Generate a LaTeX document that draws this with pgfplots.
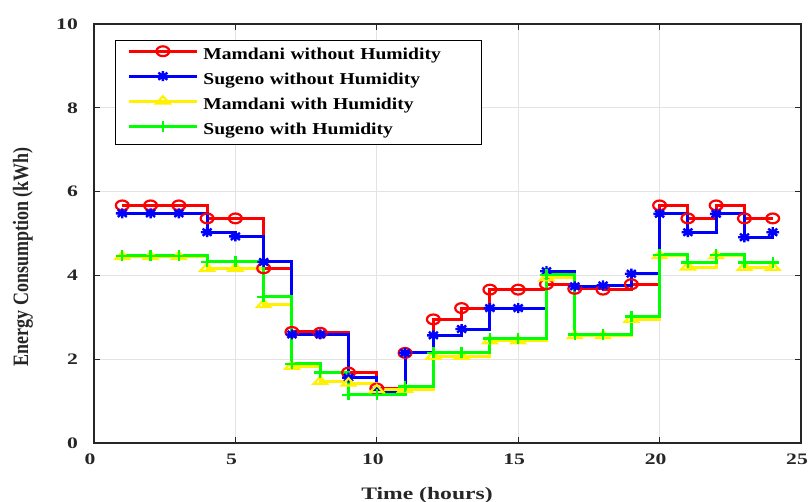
\documentclass[border=0pt]{standalone}
\usepackage{fontspec}
\usepackage{graphicx}
\usepackage{pgfplots}
\pgfplotsset{compat=1.18}
\setmainfont{Liberation Serif}
\newfontfamily\tickf{Liberation Serif}[FakeStretch=1.35]
\newfontfamily\legf{Liberation Serif}[FakeStretch=1.18]
\definecolor{axc}{RGB}{38,38,38}
\pgfdeclareplotmark{mstar}{%
  \pgfpathmoveto{\pgfqpoint{-\pgfplotmarksize}{0pt}}\pgfpathlineto{\pgfqpoint{\pgfplotmarksize}{0pt}}%
  \pgfpathmoveto{\pgfqpoint{0pt}{-\pgfplotmarksize}}\pgfpathlineto{\pgfqpoint{0pt}{\pgfplotmarksize}}%
  \pgfpathmoveto{\pgfqpoint{-0.707\pgfplotmarksize}{-0.707\pgfplotmarksize}}\pgfpathlineto{\pgfqpoint{0.707\pgfplotmarksize}{0.707\pgfplotmarksize}}%
  \pgfpathmoveto{\pgfqpoint{-0.707\pgfplotmarksize}{0.707\pgfplotmarksize}}\pgfpathlineto{\pgfqpoint{0.707\pgfplotmarksize}{-0.707\pgfplotmarksize}}%
  \pgfusepathqstroke}
\pgfplotsset{legend image code/.code={\draw[mark repeat=2,mark phase=2,#1] plot coordinates {(0pt,4pt)(34pt,4pt)(68pt,4pt)};}}
\begin{document}
\begin{tikzpicture}
\begin{axis}[
  at={(94pt,59pt)}, anchor=south west,
  scale only axis, width=707pt, height=419pt,
  xmin=0, xmax=25, ymin=0, ymax=10,
  xtick={0,5,10,15,20,25}, ytick={0,2,4,6,8,10},
  grid=major, major grid style={gray!22, line width=0.9pt},
  axis line style={axc, line width=1.3pt},
  tick style={axc, line width=1.3pt}, major tick length=6pt,
  tick align=inside,
  /pgf/number format/assume math mode=true,
  ticklabel style={font=\tickf\fontsize{16}{16}\selectfont\bfseries, text=axc},
  xticklabel style={inner sep=0pt, anchor=north, yshift=-11pt, xshift=-4pt},
  yticklabel style={inner sep=0pt, anchor=east, xshift=-16pt},
  xlabel={Time (hours)},
  xlabel style={font=\tickf\fontsize{17.5}{17.5}\selectfont\bfseries, text=axc, at={(axis description cs:0.471,-0.1337)}, anchor=base},
  ylabel={\scalebox{1}[1.22]{Energy Consumption (kWh)}},
  ylabel style={font=\fontsize{18}{18}\selectfont\bfseries, text=axc, at={(axis description cs:-0.1004,0.444)}, anchor=center, rotate=0},
  legend cell align=left,
  legend style={at={(axis description cs:0.0297,0.962)}, anchor=north west, draw=black, line width=0.8pt, fill=white,
    font=\legf\fontsize{16.6}{16.6}\selectfont\bfseries, text=black,
    inner xsep=12pt, inner ysep=6pt, row sep=8pt,
    nodes={inner sep=0pt, text height=12pt, text depth=4pt},
    /tikz/every odd column/.append style={column sep=5pt},
    /tikz/every even column/.append style={text width=266pt}},
  every axis plot/.append style={line width=3pt, const plot mark left},
]
\addplot[color=red, mark=o, mark size=4.9pt, mark options={xscale=1.31, line width=2.2pt}] coordinates {
(1,5.67)(2,5.67)(3,5.67)(4,5.36)(5,5.36)(6,4.17)(7,2.65)(8,2.63)(9,1.68)(10,1.30)(11,2.15)(12,2.95)
(13,3.22)(14,3.66)(15,3.66)(16,3.79)(17,3.68)(18,3.66)(19,3.79)(20,5.67)(21,5.36)(22,5.67)(23,5.36)(24,5.36)};
\addlegendentry{Mamdani without Humidity}
\addplot[color=blue, mark=mstar, mark size=5pt, mark options={xscale=1.27, line width=2.4pt}] coordinates {
(1,5.48)(2,5.48)(3,5.48)(4,5.03)(5,4.93)(6,4.32)(7,2.59)(8,2.59)(9,1.56)(10,1.24)(11,2.15)(12,2.57)
(13,2.72)(14,3.22)(15,3.22)(16,4.10)(17,3.74)(18,3.76)(19,4.04)(20,5.47)(21,5.03)(22,5.47)(23,4.91)(24,5.03)};
\addlegendentry{Sugeno without Humidity}
\addplot[color=yellow, mark=triangle, mark size=4.8pt, mark options={xscale=1.6, line width=2.2pt}] coordinates {
(1,4.45)(2,4.45)(3,4.45)(4,4.17)(5,4.17)(6,3.30)(7,1.83)(8,1.47)(9,1.43)(10,1.27)(11,1.28)(12,2.07)
(13,2.07)(14,2.44)(15,2.44)(16,3.94)(17,2.56)(18,2.56)(19,2.95)(20,4.47)(21,4.20)(22,4.47)(23,4.19)(24,4.19)};
\addlegendentry{Mamdani with Humidity}
\addplot[color=green, mark=+, mark size=5.5pt, mark options={xscale=1.2, line width=2.4pt}] coordinates {
(1,4.47)(2,4.47)(3,4.47)(4,4.32)(5,4.32)(6,3.49)(7,1.89)(8,1.68)(9,1.15)(10,1.15)(11,1.35)(12,2.15)
(13,2.15)(14,2.49)(15,2.49)(16,4.01)(17,2.59)(18,2.59)(19,3.02)(20,4.49)(21,4.31)(22,4.49)(23,4.31)(24,4.31)};
\addlegendentry{Sugeno with Humidity}
\end{axis}
\pgfresetboundingbox
\useasboundingbox (0,0) rectangle (808pt,502pt);
\end{tikzpicture}
\end{document}
